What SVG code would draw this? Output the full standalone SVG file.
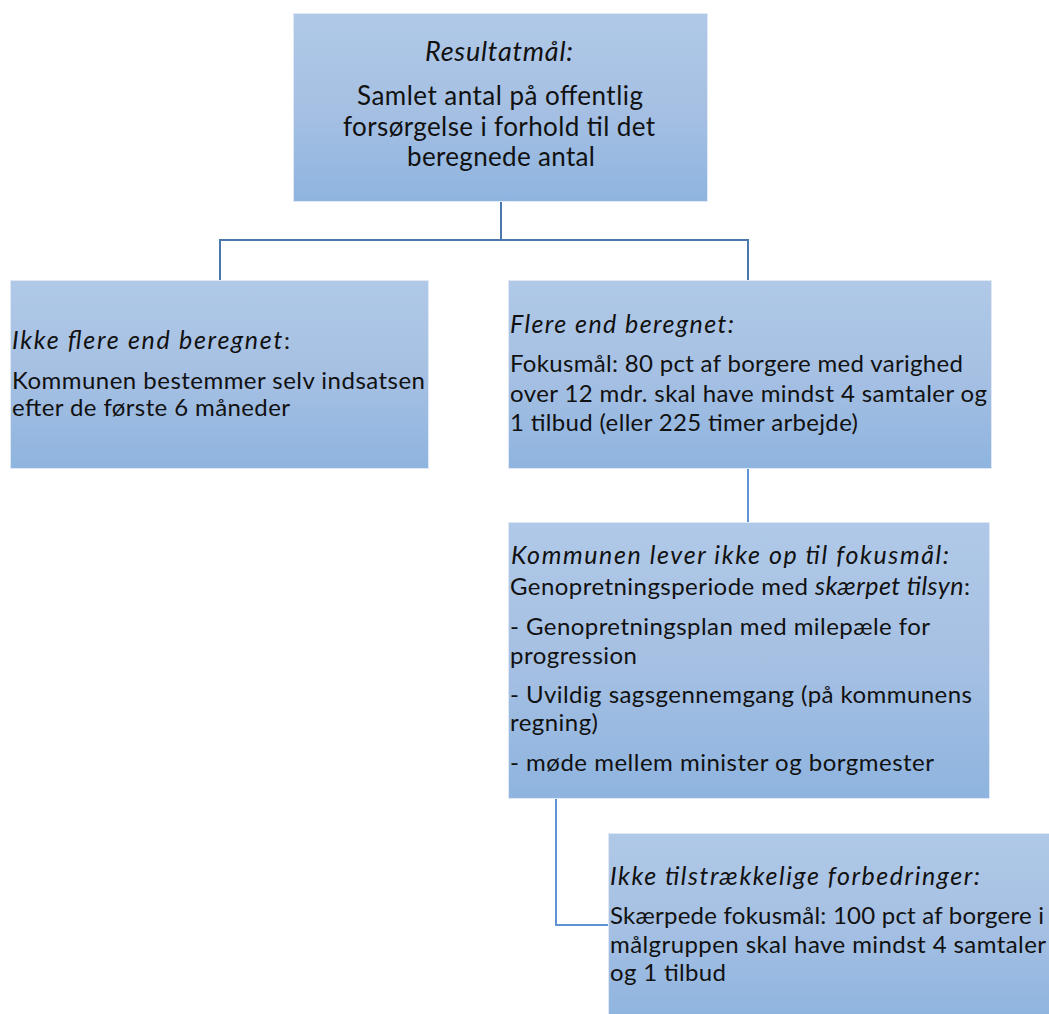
<svg xmlns="http://www.w3.org/2000/svg" width="1049" height="1014" viewBox="0 0 1049 1014">
<defs>
<linearGradient id="boxg" x1="0" y1="0" x2="0" y2="1">
<stop offset="0" stop-color="#b0c9e8"/>
<stop offset="0.5" stop-color="#a6c0e3"/>
<stop offset="1" stop-color="#8eb4df"/>
</linearGradient>
</defs>
<style>
.box{fill:url(#boxg);stroke:#dfe8f4;stroke-width:1}
.t{font-family:Lato,"Liberation Sans",sans-serif;font-size:24px;fill:#111}
.big{font-size:26px}
.i{font-style:italic;font-size:25px}
.big.i{font-size:27px}
.c1{fill:none;stroke:#4a78ad;stroke-width:2}
.c2{fill:none;stroke:#5f93d3;stroke-width:2}
</style>
<rect width="1049" height="1014" fill="#fff"/>
<g id="connectors">
<path class="c1" d="M501 201 V240 M220 240 H748 M220 239 V280 M748 239 V280"/>
<path class="c2" d="M748 468 V522"/>
<path class="c2" d="M556 798 V925 H608"/>
</g>
<g id="node-resultat">
<rect class="box" x="293.5" y="13.5" width="414" height="188"/>
<text class="t big i" x="499" y="61" text-anchor="middle" textLength="148" lengthAdjust="spacing">Resultatmål:</text>
<text class="t big" x="500" y="105" text-anchor="middle" textLength="286" lengthAdjust="spacing">Samlet antal på offentlig</text>
<text class="t big" x="499" y="136" text-anchor="middle" textLength="312" lengthAdjust="spacing">forsørgelse i forhold til det</text>
<text class="t big" x="501" y="166" text-anchor="middle" textLength="188" lengthAdjust="spacing">beregnede antal</text>
</g>
<g id="node-ikke-flere">
<rect class="box" x="10.5" y="280.5" width="418" height="188"/>
<text class="t" x="12" y="349" textLength="278" lengthAdjust="spacing"><tspan class="i">Ikke flere end beregnet</tspan>:</text>
<text class="t" x="12" y="389" textLength="413" lengthAdjust="spacing">Kommunen bestemmer selv indsatsen</text>
<text class="t" x="12" y="416" textLength="278" lengthAdjust="spacing">efter de første 6 måneder</text>
</g>
<g id="node-flere">
<rect class="box" x="508.5" y="280.5" width="483" height="188"/>
<text class="t i" x="510" y="333" textLength="224" lengthAdjust="spacing">Flere end beregnet:</text>
<text class="t" x="510" y="372" textLength="453" lengthAdjust="spacing">Fokusmål: 80 pct af borgere med varighed</text>
<text class="t" x="510" y="402" textLength="477" lengthAdjust="spacing">over 12 mdr. skal have mindst 4 samtaler og</text>
<text class="t" x="510" y="431" textLength="348" lengthAdjust="spacing">1 tilbud (eller 225 timer arbejde)</text>
</g>
<g id="node-genopretning">
<rect class="box" x="508.5" y="522.5" width="481" height="276"/>
<text class="t i" x="511" y="564" textLength="438" lengthAdjust="spacing">Kommunen lever ikke op til fokusmål:</text>
<text class="t" x="510" y="595" textLength="460" lengthAdjust="spacing">Genopretningsperiode med <tspan class="i">skærpet tilsyn</tspan>:</text>
<text class="t" x="510" y="635" textLength="420" lengthAdjust="spacing">- Genopretningsplan med milepæle for</text>
<text class="t" x="510" y="664" textLength="127" lengthAdjust="spacing">progression</text>
<text class="t" x="510" y="703" textLength="462" lengthAdjust="spacing">- Uvildig sagsgennemgang (på kommunens</text>
<text class="t" x="510" y="731" textLength="88" lengthAdjust="spacing">regning)</text>
<text class="t" x="510" y="771" textLength="424" lengthAdjust="spacing">- møde mellem minister og borgmester</text>
</g>
<g id="node-forbedringer">
<rect class="box" x="608.5" y="833.5" width="445" height="185"/>
<text class="t i" x="610" y="885" textLength="370" lengthAdjust="spacing">Ikke tilstrækkelige forbedringer:</text>
<text class="t" x="610" y="924" textLength="434" lengthAdjust="spacing">Skærpede fokusmål: 100 pct af borgere i</text>
<text class="t" x="610" y="953" textLength="436" lengthAdjust="spacing">målgruppen skal have mindst 4 samtaler</text>
<text class="t" x="610" y="981" textLength="116" lengthAdjust="spacing">og 1 tilbud</text>
</g>
</svg>
